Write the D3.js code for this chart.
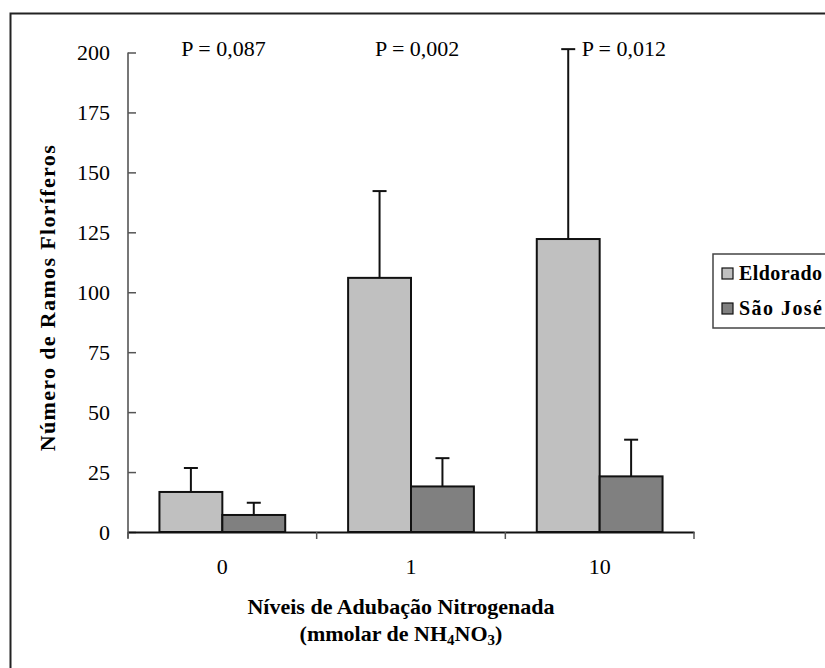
<!DOCTYPE html>
<html>
<head>
<meta charset="utf-8">
<script src="https://cdn.jsdelivr.net/npm/d3@7"></script>
<style>
  html, body { margin: 0; padding: 0; background: #fff; }
  svg { display: block; }
  text { font-family: "Liberation Serif", "Times New Roman", serif; fill: #000; }
</style>
</head>
<body>
<svg id="chart" width="825" height="668"></svg>
<script>
const categories = ["0", "1", "10"];
const seriesNames = ["Eldorado", "São José"];
const eldorado = [16.7, 106.0, 122.2];
const saoJose = [7.1, 19.0, 23.2];
const eldoradoErr = [10.0, 36.2, 79.2];
const saoJoseErr = [5.1, 11.8, 15.3];
const pLabels = ["P = 0,087", "P = 0,002", "P = 0,012"];
const yTicks = [0, 25, 50, 75, 100, 125, 150, 175, 200];
const colors = ["#C0C0C0", "#808080"];

const values = [eldorado, saoJose];
const errors = [eldoradoErr, saoJoseErr];

const svg = d3.select("#chart");

// outer frame
svg.append("rect").attr("x", 10.5).attr("y", 13.5).attr("width", 830).attr("height", 680)
  .attr("fill", "#fff").attr("stroke", "#222").attr("stroke-width", 2);

const pLeft = 128, pRight = 694, pTop = 52.5, pBottom = 532;

const x0 = d3.scaleBand().domain(categories).range([pLeft, pRight]).paddingInner(0).paddingOuter(0);
const x1 = d3.scaleBand().domain(seriesNames).range([0, x0.bandwidth()]).paddingInner(0).paddingOuter(0.5);
const y = d3.scaleLinear().domain([0, 200]).range([pBottom, pTop]);

// bars
seriesNames.forEach((s, si) => {
  const g = svg.append("g");
  g.selectAll("rect").data(categories).enter().append("rect")
    .attr("x", c => x0(c) + x1(s))
    .attr("y", (c, i) => y(values[si][i]))
    .attr("width", x1.bandwidth())
    .attr("height", (c, i) => y(0) - y(values[si][i]))
    .attr("fill", colors[si])
    .attr("stroke", "#111").attr("stroke-width", 2);
  // error bars (upper only)
  categories.forEach((c, i) => {
    const cx = x0(c) + x1(s) + x1.bandwidth() / 2;
    const y1 = y(values[si][i]);
    const y2 = y(values[si][i] + errors[si][i]);
    g.append("line").attr("x1", cx).attr("x2", cx).attr("y1", y1).attr("y2", y2)
      .attr("stroke", "#111").attr("stroke-width", 2);
    g.append("line").attr("x1", cx - 7).attr("x2", cx + 7).attr("y1", y2).attr("y2", y2)
      .attr("stroke", "#111").attr("stroke-width", 2);
  });
});

// y axis
const yAxis = d3.axisLeft(y).tickValues(yTicks).tickSizeInner(-8).tickSizeOuter(0).tickPadding(18);
const yg = svg.append("g").attr("transform", `translate(${pLeft},0)`).call(yAxis);
yg.attr("font-family", null);
yg.select(".domain").attr("stroke", "#777").attr("stroke-width", 2).attr("d", `M0,${pTop}V${pBottom + 6}`);
yg.selectAll(".tick line").attr("stroke", "#555").attr("stroke-width", 1.5);
yg.selectAll(".tick text").attr("font-size", 22).attr("fill", "#000");

// x axis
const xAxis = d3.axisBottom(x0).tickSize(0).tickPadding(0);
const xg = svg.append("g").attr("transform", `translate(0,${pBottom})`).call(xAxis);
xg.attr("font-family", null);
xg.select(".domain").attr("stroke", "#111").attr("stroke-width", 2);
xg.selectAll(".tick text").attr("font-size", 22).attr("fill", "#000").attr("dy", 0).attr("y", 42);
// category boundary ticks (outward)
const bounds = [pLeft].concat(categories.map(c => x0(c) + x0.bandwidth()));
xg.selectAll(".bt").data(bounds).enter().append("line")
  .attr("x1", d => d).attr("x2", d => d).attr("y1", 0).attr("y2", 7)
  .attr("stroke", "#555").attr("stroke-width", 1.5);

// P labels
const pOffsets = [-41, -36, -18];
svg.selectAll(".plab").data(pLabels).enter().append("text")
  .attr("x", (d, i) => x0(categories[i]) + x0.bandwidth() / 2 + pOffsets[i])
  .attr("y", 56)
  .attr("font-size", 22)
  .text(d => d);

// y axis title
svg.append("text")
  .attr("transform", `translate(55,${(pTop + pBottom) / 2 + 6}) rotate(-90)`)
  .attr("text-anchor", "middle").attr("font-size", 22).attr("font-weight", "bold")
  .attr("textLength", 306).attr("lengthAdjust", "spacing")
  .text("Número de Ramos Floríferos");

// x axis title
const xc = (pLeft + pRight) / 2 - 10;
svg.append("text").attr("x", xc).attr("y", 614).attr("text-anchor", "middle")
  .attr("font-size", 22).attr("font-weight", "bold")
  .text("Níveis de Adubação Nitrogenada");
const t2 = svg.append("text").attr("x", xc).attr("y", 641).attr("text-anchor", "middle")
  .attr("font-size", 22).attr("font-weight", "bold");
t2.append("tspan").text("(mmolar de NH");
t2.append("tspan").attr("font-size", 15).attr("dy", 4).text("4");
t2.append("tspan").attr("dy", -4).text("NO");
t2.append("tspan").attr("font-size", 15).attr("dy", 4).text("3");
t2.append("tspan").attr("dy", -4).text(")");

// legend
svg.append("rect").attr("x", 713).attr("y", 254).attr("width", 130).attr("height", 74)
  .attr("fill", "#fff").attr("stroke", "#444").attr("stroke-width", 1.5);
const lg = svg.append("g");
seriesNames.forEach((s, i) => {
  const yy = 268 + i * 35;
  lg.append("rect").attr("x", 722).attr("y", yy).attr("width", 11).attr("height", 11)
    .attr("fill", colors[i]).attr("stroke", "#111").attr("stroke-width", 1.2);
  lg.append("text").attr("x", 739).attr("y", yy + 12).attr("font-size", 20).attr("font-weight", "bold")
    .attr("textLength", 83).attr("lengthAdjust", "spacing")
    .text(s);
});
</script>
</body>
</html>
